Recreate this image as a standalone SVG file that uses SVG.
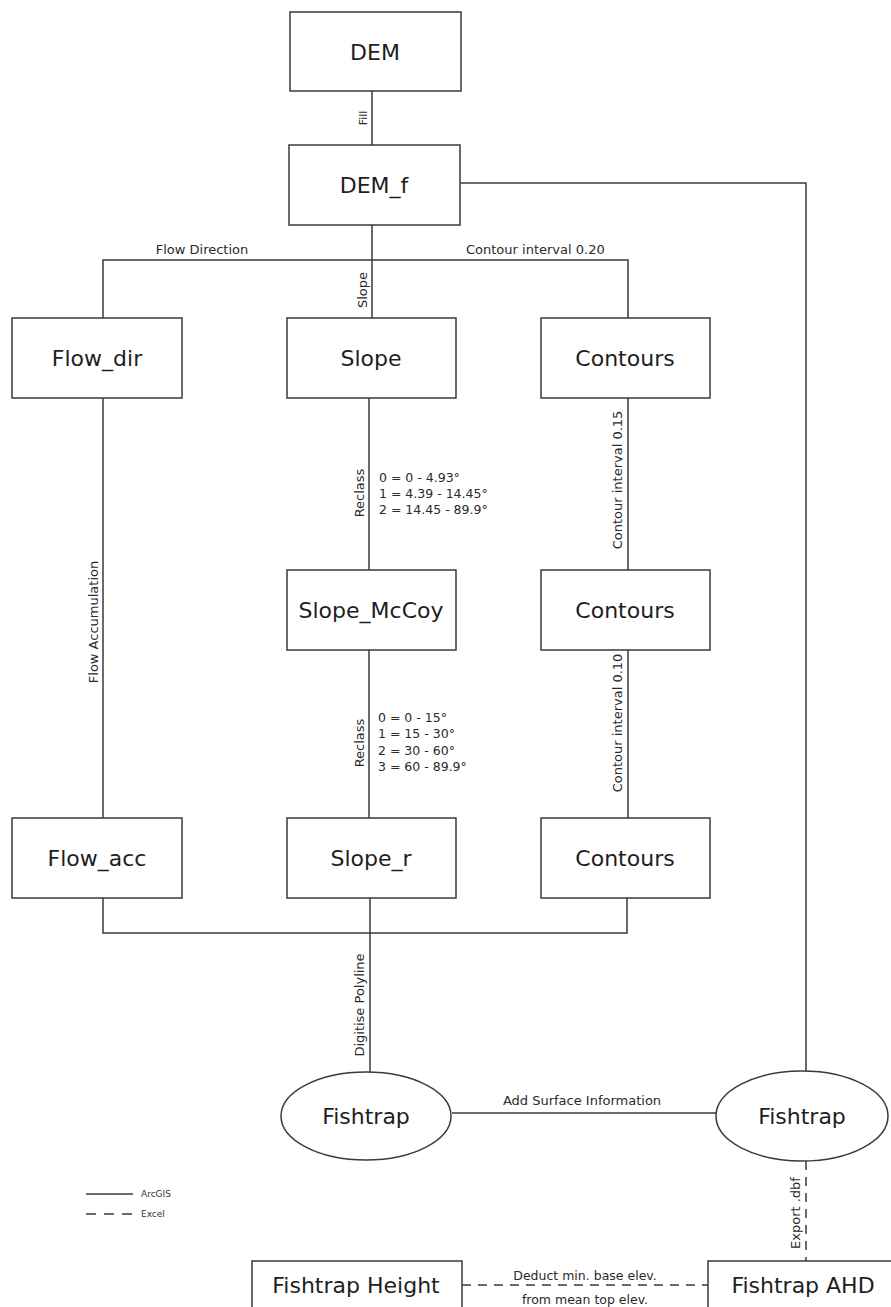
<svg xmlns="http://www.w3.org/2000/svg" width="891" height="1307" viewBox="0 0 891 1307">
<style>
.bg{fill:#ffffff}
.box{fill:#ffffff;stroke:#3a3a3a;stroke-width:1.5}
.ln{fill:none;stroke:#3a3a3a;stroke-width:1.5}
.dash{fill:none;stroke:#3a3a3a;stroke-width:1.5;stroke-dasharray:9 7}
.nt{font-family:"DejaVu Sans",Verdana,sans-serif;font-size:22px;fill:#1e1e1e;text-anchor:middle}
.et{font-family:"DejaVu Sans",Verdana,sans-serif;font-size:13px;fill:#2a2a2a}
.vt{font-family:"DejaVu Sans",Verdana,sans-serif;font-size:12.5px;fill:#2a2a2a}
.mid{text-anchor:middle}
.lg{font-family:"DejaVu Sans",Verdana,sans-serif;font-size:9px;fill:#333}
</style>
<rect class="bg" x="0" y="0" width="891" height="1307"/>
<g id="connectors">
<line class="ln" x1="372" y1="91" x2="372" y2="145"/>
<polyline class="ln" points="460,183 806,183 806,1071"/>
<line class="ln" x1="372" y1="225" x2="372" y2="318"/>
<polyline class="ln" points="103,318 103,260 628,260 628,318"/>
<line class="ln" x1="103" y1="398" x2="103" y2="818"/>
<line class="ln" x1="369" y1="398" x2="369" y2="570"/>
<line class="ln" x1="369" y1="650" x2="369" y2="818"/>
<line class="ln" x1="628" y1="398" x2="628" y2="570"/>
<line class="ln" x1="628" y1="650" x2="628" y2="818"/>
<polyline class="ln" points="103,898 103,933 627,933 627,898"/>
<line class="ln" x1="370" y1="898" x2="370" y2="1072"/>
<line class="ln" x1="452" y1="1113" x2="716" y2="1113"/>
<line class="dash" x1="806" y1="1161" x2="806" y2="1261"/>
<line class="dash" x1="462" y1="1285" x2="708" y2="1285"/>
<text class="et" transform="translate(367,118) rotate(-90)" text-anchor="middle" style="font-size:11px">Fill</text>
<text class="et mid" x="202" y="254">Flow Direction</text>
<text class="et" x="466" y="254">Contour interval 0.20</text>
<text class="et" transform="translate(367,290) rotate(-90)" text-anchor="middle">Slope</text>
<text class="et" transform="translate(364,493) rotate(-90)" text-anchor="middle">Reclass</text>
<text class="vt" x="379" y="482">0 = 0 - 4.93°</text>
<text class="vt" x="379" y="498">1 = 4.39 - 14.45°</text>
<text class="vt" x="379" y="514">2 = 14.45 - 89.9°</text>
<text class="et" transform="translate(364,743) rotate(-90)" text-anchor="middle">Reclass</text>
<text class="vt" x="378" y="722">0 = 0 - 15°</text>
<text class="vt" x="378" y="738">1 = 15 - 30°</text>
<text class="vt" x="378" y="755">2 = 30 - 60°</text>
<text class="vt" x="378" y="771">3 = 60 - 89.9°</text>
<text class="et" transform="translate(622,480) rotate(-90)" text-anchor="middle">Contour interval 0.15</text>
<text class="et" transform="translate(622,723) rotate(-90)" text-anchor="middle">Contour interval 0.10</text>
<text class="et" transform="translate(98,622) rotate(-90)" text-anchor="middle">Flow Accumulation</text>
<text class="et" transform="translate(364,1005) rotate(-90)" text-anchor="middle">Digitise Polyline</text>
<text class="et mid" x="582" y="1105">Add Surface Information</text>
<text class="et" transform="translate(800,1213) rotate(-90)" text-anchor="middle">Export .dbf</text>
<text class="vt mid" x="585" y="1280">Deduct min. base elev.</text>
<text class="vt mid" x="585" y="1304">from mean top elev.</text>
</g>
<g id="legend">
<line class="ln" x1="86" y1="1194" x2="133" y2="1194"/>
<text class="lg" x="141" y="1197">ArcGIS</text>
<line class="dash" x1="86" y1="1214" x2="133" y2="1214" style="stroke-dasharray:10 8"/>
<text class="lg" x="141" y="1217">Excel</text>
</g>
<g id="n-dem"><rect class="box" x="290" y="12" width="171" height="79"/><text class="nt" x="375" y="60">DEM</text></g>
<g id="n-demf"><rect class="box" x="289" y="145" width="171" height="80"/><text class="nt" x="374" y="193">DEM_f</text></g>
<g id="n-flowdir"><rect class="box" x="12" y="318" width="170" height="80"/><text class="nt" x="97" y="366">Flow_dir</text></g>
<g id="n-slope"><rect class="box" x="287" y="318" width="169" height="80"/><text class="nt" x="371" y="366">Slope</text></g>
<g id="n-contours1"><rect class="box" x="541" y="318" width="169" height="80"/><text class="nt" x="625" y="366">Contours</text></g>
<g id="n-slopemccoy"><rect class="box" x="287" y="570" width="169" height="80"/><text class="nt" x="371" y="618">Slope_McCoy</text></g>
<g id="n-contours2"><rect class="box" x="541" y="570" width="169" height="80"/><text class="nt" x="625" y="618">Contours</text></g>
<g id="n-flowacc"><rect class="box" x="12" y="818" width="170" height="80"/><text class="nt" x="97" y="866">Flow_acc</text></g>
<g id="n-sloper"><rect class="box" x="287" y="818" width="169" height="80"/><text class="nt" x="371" y="866">Slope_r</text></g>
<g id="n-contours3"><rect class="box" x="541" y="818" width="169" height="80"/><text class="nt" x="625" y="866">Contours</text></g>
<g id="n-fishtrap1"><ellipse class="box" cx="366" cy="1116" rx="85" ry="44"/><text class="nt" x="366" y="1124">Fishtrap</text></g>
<g id="n-fishtrap2"><ellipse class="box" cx="802" cy="1116" rx="86" ry="45"/><text class="nt" x="802" y="1124">Fishtrap</text></g>
<g id="n-height"><rect class="box" x="252" y="1261" width="210" height="60"/><text class="nt" x="356" y="1293">Fishtrap Height</text></g>
<g id="n-ahd"><rect class="box" x="708" y="1261" width="200" height="60"/><text class="nt" x="803" y="1293">Fishtrap AHD</text></g>
</svg>
